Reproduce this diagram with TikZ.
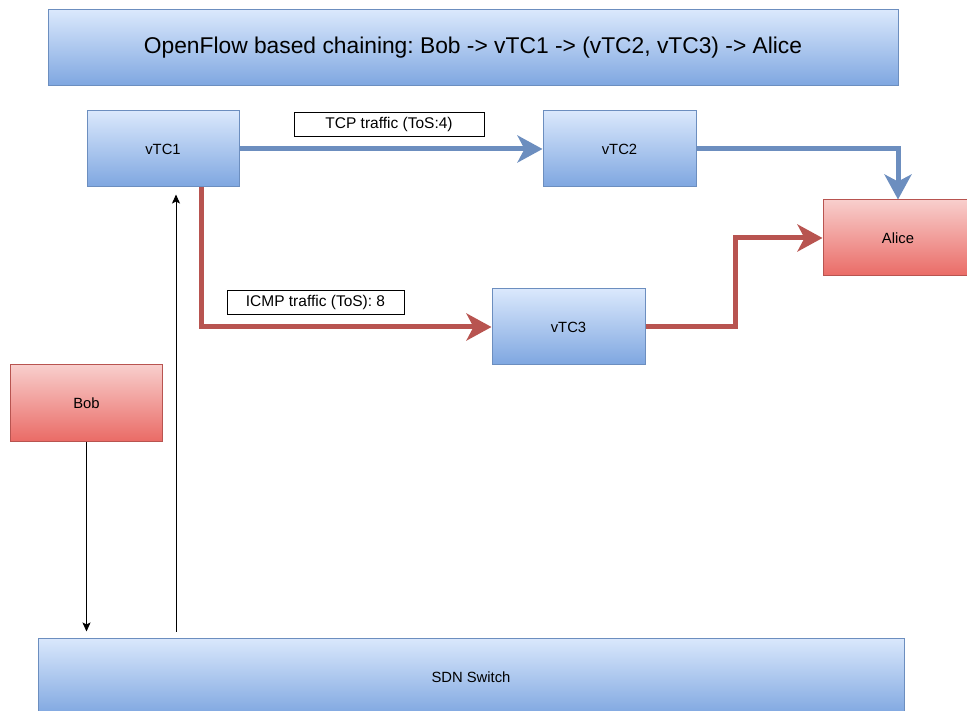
\documentclass[tikz,border=0pt]{standalone}
\usepackage{fontspec}
\setmainfont{Liberation Sans}
\frenchspacing
\usetikzlibrary{arrows.meta}
\definecolor{bluetop}{HTML}{DAE8FC}
\definecolor{bluebot}{HTML}{7EA6E0}
\definecolor{blueline}{HTML}{6C8EBF}
\definecolor{redtop}{HTML}{F8CECC}
\definecolor{redbot}{HTML}{EA6B66}
\definecolor{redline}{HTML}{B85450}
\tikzset{
  box/.style={rectangle, line width=1pt, inner sep=0pt, font=\fontsize{14.8}{17}\selectfont},
  bluebox/.style={box, draw=blueline, top color=bluetop, bottom color=bluebot},
  redbox/.style={box, draw=redline, top color=redtop, bottom color=redbot},
  tag/.style={rectangle, draw=black, fill=white, line width=0.8pt, inner sep=0pt,
    minimum height=24pt, font=\fontsize{15.5}{18}\selectfont},
  flow/.style={line width=5pt, line join=miter,
    -{Stealth[length=25pt, width=27pt, inset=7pt]}},
  blueflow/.style={flow, draw=blueline},
  redflow/.style={flow, draw=redline},
  thin/.style={draw=black, line width=1pt, -{Stealth[length=9pt, width=8pt, inset=2pt]}}
}
\begin{document}
\begin{tikzpicture}[x=1pt, y=-1pt]
  \useasboundingbox (0,0) rectangle (967,711);
  \clip (0,0) rectangle (967,711);

  % boxes
  \node[bluebox, minimum width=850pt, minimum height=76pt, font=\fontsize{22.8}{26}\selectfont]
    (title) at (473,48) {OpenFlow based chaining: Bob -> vTC1 -> (vTC2, vTC3) -> Alice};
  \node[bluebox, minimum width=152pt, minimum height=76pt] (vtc1) at (163,149) {vTC1};
  \node[bluebox, minimum width=153pt, minimum height=76pt] (vtc2) at (619.5,149) {vTC2};
  \node[bluebox, minimum width=153pt, minimum height=76pt] (vtc3) at (568.5,327) {vTC3};
  \node[redbox, minimum width=150pt, minimum height=76pt] (alice) at (898,238) {Alice};
  \node[redbox, minimum width=152pt, minimum height=76pt] (bob) at (86.5,403) {Bob};
  \node[bluebox, minimum width=866pt, minimum height=78pt] (sdn) at (471,677) {SDN Switch};

  % traffic labels
  \node[tag, minimum width=190pt] (tcp) at (389,124) {TCP traffic (ToS:4)};
  \node[tag, minimum width=177pt] (icmp) at (315.5,302) {ICMP traffic (ToS): 8};

  % TCP path
  \draw[blueflow] (vtc1.east) -- (vtc2.west);
  \draw[blueflow] (vtc2.east) -| (alice.north);

  % ICMP path
  \draw[redflow] ([xshift=38pt]vtc1.south) |- (vtc3.west);
  \draw[redflow] (vtc3.east) -- ++(90,0) |- (alice.west);

  % switch links
  \draw[thin, shorten >=6pt] (bob.south) -- (bob.south |- sdn.north);
  \coordinate (up) at (176,0);
  \draw[thin, shorten <=6pt, shorten >=7pt] (up |- sdn.north) -- (up |- vtc1.south);
\end{tikzpicture}
\end{document}
